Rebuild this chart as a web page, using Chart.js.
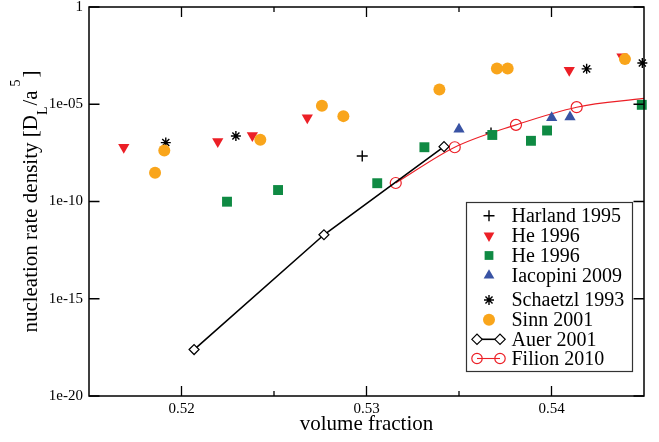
<!DOCTYPE html>
<html>
<head>
<meta charset="utf-8">
<script src="https://cdn.jsdelivr.net/npm/chart.js@4/dist/chart.umd.min.js"></script>
<style>
html, body { margin: 0; padding: 0; background: #ffffff; }
#wrap { width: 659px; height: 442px; }
</style>
</head>
<body>
<div id="wrap"><canvas id="c" width="659" height="442"></canvas></div>
<script>
// ---- data ----
const harlandX = [0.52977, 0.53673];
const harlandY = [2.19e-8, 3.31e-7];

const heRedX = [0.51688, 0.52196, 0.52383, 0.52680, 0.54096, 0.54381];
const heRedY = [6.17e-8, 1.23e-7, 2.51e-7, 2.00e-6, 5.62e-4, 2.75e-3];

const heGreenX = [0.52246, 0.52522, 0.53058, 0.53313, 0.53680, 0.53889, 0.53976, 0.54488];
const heGreenY = [9.77e-11, 3.89e-10, 8.71e-10, 6.17e-8, 2.63e-7, 1.32e-7, 4.47e-7, 9.33e-6];

const iacopiniX = [0.53500, 0.54001, 0.54100];
const iacopiniY = [5.25e-7, 2.00e-6, 2.24e-6];

const schaetzlX = [0.51915, 0.52294, 0.54190, 0.54491];
const schaetzlY = [1.07e-7, 2.34e-7, 6.61e-4, 1.32e-3];

const sinnX = [0.51857, 0.51907, 0.52426, 0.52759, 0.52875, 0.53394, 0.53705, 0.53763, 0.54397];
const sinnY = [3.02e-9, 4.17e-8, 1.51e-7, 8.32e-6, 2.45e-6, 5.75e-5, 6.92e-4, 6.92e-4, 2.09e-3];

const auerX = [0.52068, 0.52770, 0.53419];
const auerY = [2.45e-18, 1.95e-12, 6.61e-8];

const filionX = [0.53158, 0.53477, 0.53808, 0.54136, 0.54500];
const filionY = [8.91e-10, 6.17e-8, 8.71e-7, 7.08e-6, 2.00e-5];
const filionMarked = [true, true, true, true, false];

const seriesLabels = ['Harland 1995', 'He 1996', 'He 1996', 'Iacopini 2009',
                      'Schaetzl 1993', 'Sinn 2001', 'Auer 2001', 'Filion 2010'];

const volumeTicks = [0.52, 0.53, 0.54];
const volumeMinorTicks = [0.525, 0.535];
const rateTicks = [1e-20, 1e-15, 1e-10, 1e-5, 1];

const xTitle = 'volume fraction';
const yTitleParts = ['nucleation rate density [D', 'L', '/a', '5', ']'];

// ---- styling ----
const RED = '#ec1f26';
const GREEN = '#0f8a43';
const BLUE = '#3953a4';
const ORANGE = '#f9a51b';
const SERIF = '"Liberation Serif", "Times New Roman", serif';

Chart.defaults.font.family = SERIF;
Chart.defaults.color = '#000';

function pts(xs, ys) { return xs.map((x, i) => ({ x: x, y: ys[i] })); }

const datasets = [
  { label: seriesLabels[0], data: pts(harlandX, harlandY), pointStyle: 'cross', pointRadius: 5.5,
    pointBorderColor: '#000', pointBackgroundColor: '#000', pointBorderWidth: 1.4, showLine: false, order: 7 },
  { label: seriesLabels[1], data: pts(heRedX, heRedY), pointStyle: 'triangle', pointRotation: 180, pointRadius: 6.5,
    pointBorderColor: RED, pointBackgroundColor: RED, pointBorderWidth: 0, showLine: false, order: 6 },
  { label: seriesLabels[2], data: pts(heGreenX, heGreenY), pointStyle: 'rect', pointRadius: 7,
    pointBorderColor: GREEN, pointBackgroundColor: GREEN, pointBorderWidth: 0, showLine: false, order: 3 },
  { label: seriesLabels[3], data: pts(iacopiniX, iacopiniY), pointStyle: 'triangle', pointRadius: 6.5,
    pointBorderColor: BLUE, pointBackgroundColor: BLUE, pointBorderWidth: 0, showLine: false, order: 2 },
  { label: seriesLabels[4], data: pts(schaetzlX, schaetzlY), pointStyle: 'star', pointRadius: 5,
    pointBorderColor: '#000', pointBackgroundColor: '#000', pointBorderWidth: 1.4, showLine: false, order: 1 },
  { label: seriesLabels[5], data: pts(sinnX, sinnY), pointStyle: 'circle', pointRadius: 6,
    pointBorderColor: ORANGE, pointBackgroundColor: ORANGE, pointBorderWidth: 0, showLine: false, order: 0 },
  { label: seriesLabels[6], data: pts(auerX, auerY), pointStyle: 'rectRot', pointRadius: 5,
    pointBorderColor: '#000', pointBackgroundColor: '#fff', pointBorderWidth: 1.2,
    borderColor: '#000', borderWidth: 1.6, showLine: true, tension: 0, order: 4 },
  { label: seriesLabels[7], data: pts(filionX, filionY), pointStyle: 'circle',
    pointRadius: filionMarked.map(m => m ? 5.5 : 0),
    pointBorderColor: RED, pointBackgroundColor: 'rgba(0,0,0,0)', pointBorderWidth: 1.2,
    borderColor: RED, borderWidth: 1.1, showLine: true, cubicInterpolationMode: 'monotone', order: 5 }
];
datasets.forEach(d => { d.clip = false; d.pointHoverRadius = d.pointRadius; });

// ---- marker helper for legend ----
function marker(ctx, style, x, y, r, rot, fill, stroke, bw) {
  ctx.save();
  ctx.fillStyle = fill;
  ctx.strokeStyle = stroke;
  ctx.lineWidth = bw;
  Chart.helpers.drawPoint(ctx, { pointStyle: style, rotation: rot || 0, radius: r, borderWidth: bw }, x, y);
  ctx.restore();
}

const framePlugin = {
  id: 'frame',
  afterDatasetsDraw(chart) {
    const ctx = chart.ctx;
    const a = chart.chartArea;
    const xs = chart.scales.x, ys = chart.scales.y;
    ctx.save();
    ctx.strokeStyle = '#000';
    ctx.lineWidth = 1.5;
    ctx.strokeRect(a.left, a.top, a.right - a.left, a.bottom - a.top);
    ctx.lineWidth = 1.3;
    ctx.beginPath();
    const xt = (v, len) => {
      const px = xs.getPixelForValue(v);
      ctx.moveTo(px, a.bottom); ctx.lineTo(px, a.bottom - len);
      ctx.moveTo(px, a.top); ctx.lineTo(px, a.top + len);
    };
    volumeTicks.forEach(v => xt(v, 10));
    volumeMinorTicks.forEach(v => xt(v, 5));
    rateTicks.forEach(v => {
      const py = ys.getPixelForValue(v);
      ctx.moveTo(a.left, py); ctx.lineTo(a.left + 10.5, py);
      ctx.moveTo(a.right, py); ctx.lineTo(a.right - 10.5, py);
    });
    ctx.stroke();
    ctx.restore();
  },
  afterDraw(chart) {
    const ctx = chart.ctx;
    const a = chart.chartArea;
    // y axis title with subscript / superscript
    ctx.save();
    const cy = (a.top + a.bottom) / 2;
    ctx.translate(36.5, cy);
    ctx.rotate(-Math.PI / 2);
    ctx.fillStyle = '#000';
    ctx.textBaseline = 'alphabetic';
    ctx.textAlign = 'left';
    const big = '21px ' + SERIF, small = '14px ' + SERIF;
    const parts = [
      { t: yTitleParts[0], f: big, dy: 0, gap: 0 },
      { t: yTitleParts[1], f: small, dy: 10, gap: 0 },
      { t: yTitleParts[2], f: big, dy: 0, gap: 1 },
      { t: yTitleParts[3], f: small, dy: -17, gap: 4 },
      { t: yTitleParts[4], f: big, dy: 0, gap: 2 }
    ];
    let total = 0;
    parts.forEach(p => { ctx.font = p.f; p.w = ctx.measureText(p.t).width; total += p.w + p.gap; });
    let x = -total / 2;
    parts.forEach(p => { ctx.font = p.f; x += p.gap; ctx.fillText(p.t, x, p.dy); x += p.w; });
    ctx.restore();

    // legend box inside the plot
    const L = { left: 466.5, top: 202.5, right: 632.5, bottom: 371.5 };
    ctx.save();
    ctx.fillStyle = '#fff';
    ctx.fillRect(L.left, L.top, L.right - L.left, L.bottom - L.top);
    ctx.strokeStyle = '#333';
    ctx.lineWidth = 1.2;
    ctx.strokeRect(L.left, L.top, L.right - L.left, L.bottom - L.top);
    const rows = [215.7, 235.7, 255.5, 275.5, 300, 319.7, 339.3, 358.5];
    const mx = 489, tx = 511.5;
    ctx.font = '20px ' + SERIF;
    ctx.fillStyle = '#000';
    ctx.textBaseline = 'middle';
    ctx.textAlign = 'left';
    chart.data.datasets.forEach((d, i) => {
      const y = rows[i];
      ctx.fillStyle = '#000';
      ctx.fillText(d.label, tx, y + 1);
      if (d.showLine) {
        ctx.save();
        ctx.strokeStyle = d.borderColor;
        ctx.lineWidth = d.borderWidth;
        ctx.beginPath(); ctx.moveTo(477, y); ctx.lineTo(500, y); ctx.stroke();
        ctx.restore();
        [477, 500].forEach(px => marker(ctx, d.pointStyle, px, y, 5.2, 0, d.pointBackgroundColor, d.pointBorderColor, d.pointBorderWidth));
      } else {
        const r = Math.min(d.pointRadius, 6.2);
        marker(ctx, d.pointStyle, mx, y, r, d.pointRotation || 0, d.pointBackgroundColor, d.pointBorderColor, d.pointBorderWidth);
      }
    });
    ctx.restore();
  }
};

function rateLabel(v) {
  const e = Math.round(Math.log10(v));
  if (e === 0) return '1';
  const s = String(Math.abs(e));
  return '1e' + (e < 0 ? '-' : '+') + (s.length < 2 ? '0' + s : s);
}

new Chart(document.getElementById('c'), {
  type: 'scatter',
  data: { datasets: datasets },
  options: {
    responsive: false,
    devicePixelRatio: 1,
    animation: false,
    events: [],
    layout: { padding: { left: 0, right: 15, top: 7, bottom: 0 } },
    plugins: { legend: { display: false }, tooltip: { enabled: false } },
    scales: {
      x: {
        type: 'linear', position: 'bottom', min: 0.515, max: 0.545,
        afterBuildTicks: s => { s.ticks = volumeTicks.map(v => ({ value: v })); },
        afterFit: s => { s.height = 46; s.paddingLeft = 0; s.paddingRight = 0; },
        grid: { display: false, drawTicks: false },
        border: { display: false },
        ticks: { font: { size: 15 }, padding: 4, color: '#000', autoSkip: false, maxRotation: 0,
                 callback: v => Number(v).toFixed(2) },
        title: { display: true, text: xTitle, font: { size: 21 }, color: '#000', padding: { top: 0, bottom: 5 } }
      },
      y: {
        type: 'logarithmic', position: 'left', min: 1e-20, max: 1,
        afterBuildTicks: s => { s.ticks = rateTicks.map(v => ({ value: v })); },
        afterFit: s => { s.width = 89; s.paddingTop = 0; s.paddingBottom = 0; },
        grid: { display: false, drawTicks: false },
        border: { display: false },
        ticks: { font: { size: 15 }, padding: 6, color: '#000', autoSkip: false,
                 callback: v => rateLabel(v) }
      }
    }
  },
  plugins: [framePlugin]
});
</script>
</body>
</html>
